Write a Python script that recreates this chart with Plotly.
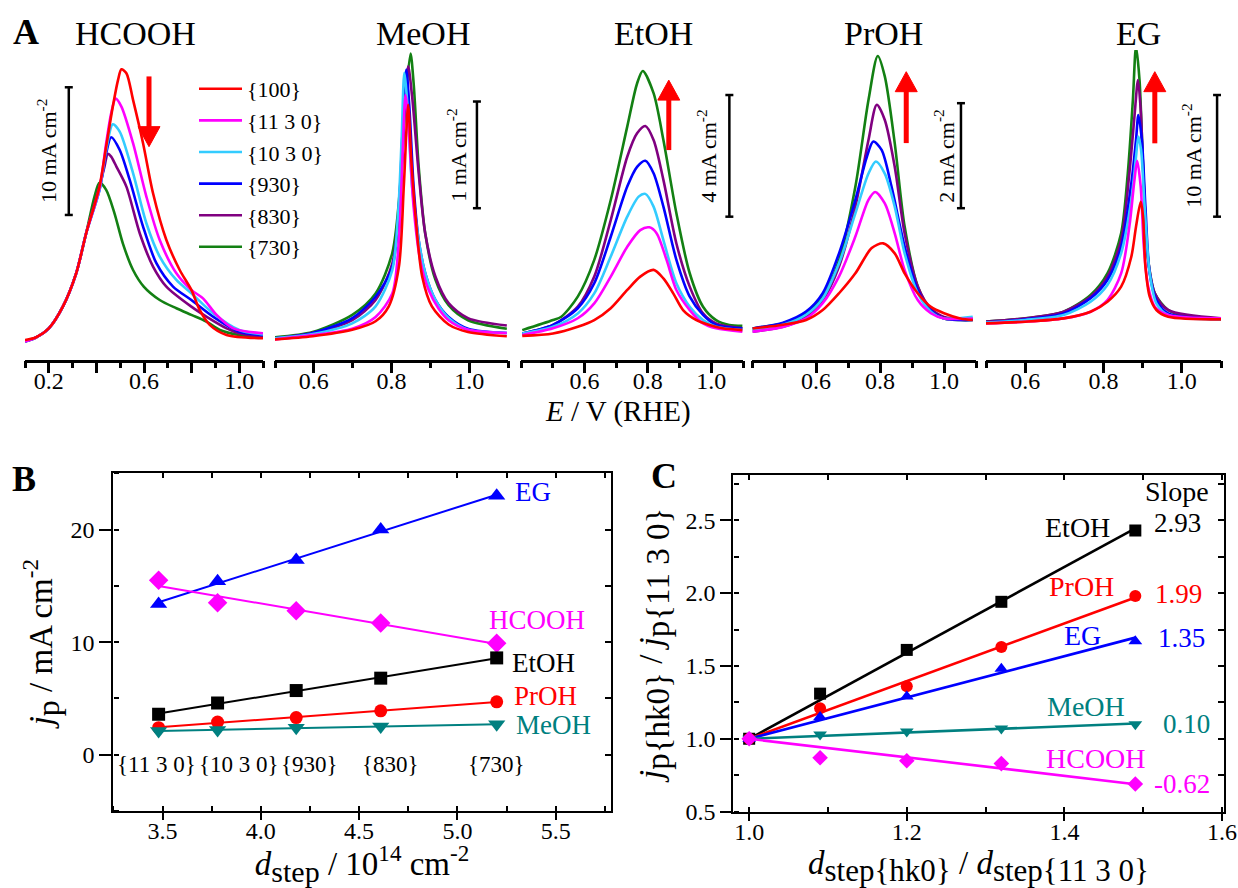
import numpy as np
import plotly.graph_objects as go

W, H = 1238, 888
SERIF = "'Liberation Serif', 'Times New Roman', Times, serif"


def px(x):
    return x / W


def py(y):
    return 1 - y / H


FACETS = ["{100}", "{11 3 0}", "{10 3 0}", "{930}", "{830}", "{730}"]
FACET_COLORS = ["#FF0000", "#FF00FF", "#33CCFF", "#0000FF", "#800080", "#138013"]

# ---------------- Panel A: voltammetric peaks (E / V, j / mA cm-2) ----------------
HCOOH_E = {
    "{100}": [0.10, 0.147, 0.20, 0.259, 0.315, 0.357, 0.413, 0.441, 0.469, 0.491, 0.505, 0.526, 0.554, 0.596, 0.638, 0.694, 0.750, 0.799, 0.834, 0.876, 0.947, 1.10],
    "{11 3 0}": [0.10, 0.147, 0.20, 0.259, 0.315, 0.357, 0.413, 0.441, 0.462, 0.481, 0.505, 0.554, 0.610, 0.666, 0.736, 0.799, 0.848, 0.905, 0.975, 1.10],
    "{10 3 0}": [0.10, 0.147, 0.20, 0.259, 0.315, 0.357, 0.413, 0.441, 0.469, 0.498, 0.554, 0.610, 0.666, 0.736, 0.799, 0.890, 1.0, 1.10],
    "{930}": [0.10, 0.147, 0.20, 0.259, 0.315, 0.357, 0.413, 0.441, 0.462, 0.498, 0.540, 0.596, 0.652, 0.722, 0.799, 0.890, 1.0, 1.10],
    "{830}": [0.10, 0.147, 0.20, 0.259, 0.315, 0.357, 0.413, 0.434, 0.448, 0.462, 0.484, 0.526, 0.582, 0.638, 0.694, 0.799, 0.862, 0.947, 1.0, 1.10],
    "{730}": [0.10, 0.147, 0.20, 0.259, 0.315, 0.357, 0.392, 0.413, 0.441, 0.476, 0.511, 0.554, 0.599, 0.666, 0.736, 0.799, 0.862, 0.919, 1.0, 1.10],
}
HCOOH_J = {
    "{100}": [0.26, 0.47, 1.17, 2.87, 5.48, 8.62, 12.27, 15.40, 18.54, 20.63, 21.46, 21.15, 19.06, 15.67, 11.75, 8.09, 5.74, 4.18, 2.61, 1.44, 0.65, 0.39],
    "{11 3 0}": [0.13, 0.47, 1.17, 2.87, 5.48, 8.62, 12.14, 15.67, 18.02, 19.16, 18.54, 15.67, 11.49, 8.09, 5.48, 4.18, 3.52, 2.22, 1.17, 0.78],
    "{10 3 0}": [0.13, 0.47, 1.17, 2.87, 5.48, 8.62, 12.01, 15.14, 17.15, 16.58, 13.32, 9.40, 6.79, 4.96, 3.92, 2.35, 1.04, 0.70],
    "{930}": [0.13, 0.47, 1.17, 2.87, 5.48, 8.62, 12.01, 14.88, 16.14, 15.14, 12.79, 9.14, 6.27, 4.44, 3.39, 2.09, 0.91, 0.65],
    "{830}": [0.13, 0.47, 1.17, 2.87, 5.48, 8.62, 12.27, 13.84, 14.83, 14.62, 13.84, 12.27, 8.62, 6.01, 4.44, 2.87, 2.09, 1.17, 0.78, 0.52],
    "{730}": [0.13, 0.47, 1.17, 2.87, 5.48, 8.62, 11.49, 12.58, 12.01, 10.18, 7.83, 5.74, 4.44, 3.39, 2.74, 2.22, 1.70, 1.04, 0.65, 0.47],
}

MEOH_E = {
    "{100}": [0.498, 0.597, 0.699, 0.759, 0.793, 0.819, 0.832, 0.843, 0.851, 0.862, 0.879, 0.904, 0.947, 0.997, 1.097],
    "{11 3 0}": [0.498, 0.597, 0.699, 0.759, 0.802, 0.819, 0.829, 0.836, 0.844, 0.857, 0.874, 0.896, 0.921, 0.947, 0.997, 1.097],
    "{10 3 0}": [0.498, 0.597, 0.699, 0.759, 0.802, 0.817, 0.826, 0.833, 0.842, 0.853, 0.870, 0.887, 0.913, 0.947, 0.997, 1.097],
    "{930}": [0.498, 0.597, 0.699, 0.759, 0.802, 0.819, 0.829, 0.838, 0.846, 0.857, 0.870, 0.887, 0.913, 0.947, 0.997, 1.097],
    "{830}": [0.498, 0.597, 0.699, 0.759, 0.802, 0.823, 0.834, 0.843, 0.853, 0.870, 0.887, 0.913, 0.947, 0.997, 1.097],
    "{730}": [0.498, 0.597, 0.699, 0.759, 0.802, 0.823, 0.836, 0.849, 0.857, 0.870, 0.887, 0.913, 0.947, 0.997, 1.097],
}
MEOH_J = {
    "{100}": [-0.01, 0.02, 0.08, 0.16, 0.30, 0.67, 1.45, 2.19, 1.67, 1.14, 0.58, 0.30, 0.13, 0.06, 0.02],
    "{11 3 0}": [-0.01, 0.03, 0.09, 0.20, 0.42, 0.92, 1.77, 2.28, 1.98, 1.23, 0.73, 0.45, 0.28, 0.17, 0.08, 0.05],
    "{10 3 0}": [0.0, 0.04, 0.14, 0.30, 0.64, 1.17, 1.86, 2.49, 2.14, 1.42, 0.92, 0.61, 0.36, 0.19, 0.08, 0.05],
    "{930}": [0.0, 0.05, 0.19, 0.39, 0.67, 1.23, 1.98, 2.52, 2.17, 1.42, 0.92, 0.61, 0.36, 0.20, 0.09, 0.05],
    "{830}": [0.0, 0.05, 0.17, 0.36, 0.70, 1.36, 2.14, 2.55, 2.27, 1.55, 0.98, 0.58, 0.33, 0.19, 0.12],
    "{730}": [0.01, 0.06, 0.22, 0.42, 0.80, 1.45, 2.23, 2.67, 2.39, 1.61, 0.98, 0.55, 0.31, 0.17, 0.09],
}

ETOH_E = {
    "{100}": [0.404, 0.501, 0.579, 0.631, 0.683, 0.735, 0.776, 0.818, 0.849, 0.880, 0.911, 0.953, 0.994, 1.036, 1.098],
    "{11 3 0}": [0.404, 0.501, 0.579, 0.631, 0.683, 0.735, 0.776, 0.805, 0.828, 0.859, 0.890, 0.932, 0.974, 1.015, 1.098],
    "{10 3 0}": [0.404, 0.501, 0.579, 0.631, 0.683, 0.735, 0.771, 0.792, 0.818, 0.849, 0.890, 0.932, 0.974, 1.015, 1.098],
    "{930}": [0.404, 0.501, 0.579, 0.631, 0.683, 0.735, 0.766, 0.792, 0.818, 0.849, 0.890, 0.932, 0.974, 1.015, 1.098],
    "{830}": [0.404, 0.501, 0.579, 0.631, 0.683, 0.735, 0.766, 0.792, 0.818, 0.849, 0.890, 0.932, 0.974, 1.015, 1.098],
    "{730}": [0.404, 0.501, 0.527, 0.579, 0.631, 0.683, 0.735, 0.766, 0.784, 0.818, 0.849, 0.890, 0.932, 0.974, 1.015, 1.057, 1.098],
}
ETOH_J = {
    "{100}": [-0.03, 0.05, 0.27, 0.49, 0.88, 1.48, 1.92, 2.14, 1.86, 1.37, 0.82, 0.49, 0.33, 0.22, 0.16],
    "{11 3 0}": [0.0, 0.22, 0.55, 1.04, 1.92, 2.90, 3.45, 3.54, 3.34, 2.47, 1.48, 0.82, 0.38, 0.22, 0.11],
    "{10 3 0}": [0.05, 0.27, 0.71, 1.37, 2.58, 3.89, 4.55, 4.64, 4.22, 3.12, 1.70, 0.93, 0.49, 0.27, 0.16],
    "{930}": [0.05, 0.33, 0.88, 1.70, 3.23, 4.88, 5.53, 5.73, 5.32, 4.22, 2.47, 1.26, 0.66, 0.33, 0.22],
    "{830}": [0.05, 0.33, 0.93, 1.92, 3.78, 5.86, 6.63, 6.87, 6.41, 5.10, 3.01, 1.59, 0.71, 0.38, 0.22],
    "{730}": [0.16, 0.49, 0.60, 1.26, 2.47, 4.44, 6.85, 8.27, 8.68, 7.95, 6.41, 4.00, 2.03, 0.93, 0.49, 0.33, 0.30],
}

PROH_E = {
    "{100}": [0.402, 0.497, 0.569, 0.621, 0.672, 0.723, 0.774, 0.810, 0.846, 0.877, 0.918, 0.959, 1.000, 1.051, 1.090],
    "{11 3 0}": [0.402, 0.497, 0.569, 0.621, 0.672, 0.723, 0.764, 0.785, 0.815, 0.846, 0.877, 0.918, 0.959, 1.000, 1.090],
    "{10 3 0}": [0.402, 0.497, 0.569, 0.621, 0.672, 0.723, 0.764, 0.787, 0.815, 0.846, 0.877, 0.918, 0.959, 1.000, 1.090],
    "{930}": [0.402, 0.497, 0.569, 0.621, 0.672, 0.723, 0.759, 0.779, 0.805, 0.836, 0.877, 0.918, 0.959, 1.000, 1.090],
    "{830}": [0.402, 0.497, 0.569, 0.621, 0.672, 0.723, 0.764, 0.790, 0.815, 0.846, 0.877, 0.918, 0.959, 1.000, 1.090],
    "{730}": [0.402, 0.497, 0.569, 0.621, 0.672, 0.723, 0.764, 0.793, 0.815, 0.846, 0.877, 0.918, 0.959, 1.000, 1.051, 1.090],
}
PROH_J = {
    "{100}": [0.03, 0.10, 0.19, 0.38, 0.70, 1.08, 1.56, 1.65, 1.46, 1.08, 0.70, 0.44, 0.32, 0.22, 0.19],
    "{11 3 0}": [-0.03, 0.06, 0.22, 0.51, 1.02, 1.78, 2.48, 2.63, 2.41, 1.84, 1.14, 0.57, 0.32, 0.22, 0.22],
    "{10 3 0}": [0.0, 0.10, 0.29, 0.60, 1.27, 2.22, 2.98, 3.21, 2.98, 2.35, 1.46, 0.70, 0.35, 0.22, 0.25],
    "{930}": [0.03, 0.14, 0.35, 0.70, 1.46, 2.48, 3.30, 3.59, 3.43, 2.73, 1.59, 0.76, 0.38, 0.22, 0.19],
    "{830}": [-0.03, 0.06, 0.25, 0.57, 1.21, 2.35, 3.62, 4.29, 4.00, 3.11, 1.84, 0.83, 0.41, 0.25, 0.22],
    "{730}": [0.03, 0.13, 0.32, 0.63, 1.33, 2.73, 4.38, 5.22, 4.83, 3.56, 1.97, 0.83, 0.38, 0.22, 0.19, 0.19],
}

EG_E = {
    "{100}": [0.499, 0.600, 0.698, 0.767, 0.810, 0.845, 0.871, 0.883, 0.895, 0.901, 0.907, 0.918, 0.935, 0.965, 1.105],
    "{11 3 0}": [0.499, 0.600, 0.698, 0.767, 0.810, 0.845, 0.866, 0.879, 0.886, 0.895, 0.903, 0.914, 0.931, 0.965, 1.105],
    "{10 3 0}": [0.499, 0.600, 0.698, 0.767, 0.810, 0.845, 0.871, 0.883, 0.889, 0.896, 0.905, 0.918, 0.935, 0.965, 1.105],
    "{930}": [0.499, 0.600, 0.698, 0.767, 0.810, 0.845, 0.871, 0.883, 0.889, 0.898, 0.907, 0.918, 0.935, 0.965, 1.105],
    "{830}": [0.499, 0.600, 0.698, 0.767, 0.810, 0.845, 0.866, 0.879, 0.888, 0.895, 0.903, 0.914, 0.931, 0.965, 1.105],
    "{730}": [0.499, 0.600, 0.698, 0.767, 0.810, 0.845, 0.862, 0.875, 0.883, 0.892, 0.901, 0.914, 0.931, 0.965, 1.017, 1.105],
}
EG_J = {
    "{100}": [-0.14, 0.0, 0.27, 0.82, 1.64, 2.88, 5.34, 7.81, 9.86, 8.63, 4.52, 2.05, 0.96, 0.41, 0.19],
    "{11 3 0}": [-0.14, 0.0, 0.27, 0.82, 1.78, 3.97, 7.81, 11.64, 13.23, 11.10, 6.16, 2.88, 1.23, 0.55, 0.27],
    "{10 3 0}": [-0.08, 0.14, 0.55, 1.64, 3.01, 5.62, 10.00, 13.56, 15.21, 14.11, 9.45, 3.97, 1.51, 0.55, 0.19],
    "{930}": [-0.08, 0.19, 0.68, 1.92, 3.42, 6.16, 11.37, 14.93, 16.99, 14.93, 9.45, 3.97, 1.78, 0.68, 0.19],
    "{830}": [0.0, 0.27, 0.82, 2.05, 3.70, 6.71, 12.19, 16.85, 19.86, 17.40, 11.10, 5.07, 2.33, 0.96, 0.27],
    "{730}": [0.0, 0.27, 0.82, 2.19, 3.97, 7.26, 12.19, 18.22, 22.60, 19.86, 12.74, 5.07, 2.33, 0.96, 0.41, 0.27],
}

A_NAMES = ["HCOOH", "MeOH", "EtOH", "PrOH", "EG"]
A_E = [HCOOH_E, MEOH_E, ETOH_E, PROH_E, EG_E]
A_J = [HCOOH_J, MEOH_J, ETOH_J, PROH_J, EG_J]

# layout of panel A (pixels of the 1238x888 page)
A_XDOM_PX = [(25, 263), (275, 508), (521, 743), (752, 976), (986, 1221)]
A_YDOM_PX = (50, 360)
A_XRANGE = [(0.1, 1.1), (0.5, 1.1), (0.4, 1.1), (0.4, 1.1), (0.5, 1.1)]
A_YRANGE = [(-1.31, 22.97), (-0.203, 2.703), (-0.822, 9.37), (-0.571, 5.333), (-3.15, 22.33)]
A_LABELVALS = [[0.2, 0.6, 1.0], [0.6, 0.8, 1.0], [0.6, 0.8, 1.0], [0.6, 0.8, 1.0], [0.6, 0.8, 1.0]]
A_MAJORVALS = [[0.2, 0.4, 0.6, 0.8, 1.0], [0.6, 0.8, 1.0], [0.6, 0.8, 1.0], [0.6, 0.8, 1.0], [0.6, 0.8, 1.0]]
A_TITLE_X_PX = [135, 423, 653, 883, 1138]

# scale bars: (E position, j bottom, j top, label, label x px)
SCALE_E = [0.284, 1.02, 1.057, 1.053, 1.09]
SCALE_LO = [10.05, 1.22, 3.89, 2.32, 8.63]
SCALE_HI = [20.05, 2.22, 7.89, 4.32, 18.63]
SCALE_LABEL = ["10 mA cm<sup>-2</sup>", "1 mA cm<sup>-2</sup>", "4 mA cm<sup>-2</sup>",
               "2 mA cm<sup>-2</sup>", "10 mA cm<sup>-2</sup>"]
SCALE_LABEL_X_PX = [47, 457, 707, 944, 1192]

# trend arrows: (E, j tail, j tip)
ARROW_E = [0.621, None, 0.866, 0.882, 0.931]
ARROW_TAIL = [20.9, None, 6.08, 3.56, 14.66]
ARROW_TIP = [15.4, None, 8.38, 4.92, 20.55]

# ---------------- Panel B ----------------
B_DSTEP = [3.48, 3.78, 4.18, 4.61, 5.20]
B_FACET_LABELS = ["{11 3 0}", "{10 3 0}", "{930}", "{830}", "{730}"]
B_FACET_LABEL_X = [3.47, 3.89, 4.25, 4.66, 5.20]
B_EG = [13.4, 15.4, 17.3, 20.0, 23.0]
B_HCOOH = [15.5, 13.5, 12.8, 11.7, 9.9]
B_ETOH = [3.6, 4.6, 5.7, 6.8, 8.6]
B_PROH = [2.4, 2.9, 3.3, 3.9, 4.7]
B_MEOH = [2.1, 2.2, 2.4, 2.5, 2.7]

# ---------------- Panel C ----------------
C_RATIO = [1.0, 1.09, 1.20, 1.32, 1.49]
C_ETOH = [1.0, 1.31, 1.61, 1.94, 2.43]
C_PROH = [1.0, 1.21, 1.36, 1.63, 1.98]
C_EG = [1.0, 1.15, 1.29, 1.48, 1.67]
C_MEOH = [1.0, 1.03, 1.05, 1.07, 1.10]
C_HCOOH = [1.0, 0.87, 0.85, 0.83, 0.69]
C_SLOPES = {"EtOH": "2.93", "PrOH": "1.99", "EG": "1.35", "MeOH": "0.10", "HCOOH": "-0.62"}

SERIES_STYLE = {
    "EG": dict(color="#0000FF", symbol="triangle-up"),
    "HCOOH": dict(color="#FF00FF", symbol="diamond"),
    "EtOH": dict(color="#000000", symbol="square"),
    "PrOH": dict(color="#FF0000", symbol="circle"),
    "MeOH": dict(color="#008080", symbol="triangle-down"),
}
B_SERIES = {"EG": B_EG, "HCOOH": B_HCOOH, "EtOH": B_ETOH, "PrOH": B_PROH, "MeOH": B_MEOH}
C_SERIES = {"EtOH": C_ETOH, "PrOH": C_PROH, "EG": C_EG, "MeOH": C_MEOH, "HCOOH": C_HCOOH}

# label positions (data coords of the panel)
B_LABEL_POS = {"EG": (5.283, 23.3), "HCOOH": (5.153, 12.0), "EtOH": (5.269, 8.15),
               "PrOH": (5.279, 5.18), "MeOH": (5.289, 2.67)}
C_NAME_POS = {"EtOH": (1.460, 2.453), "PrOH": (1.465, 2.043), "EG": (1.449, 1.712),
              "MeOH": (1.480, 1.22), "HCOOH": (1.506, 0.866)}
C_SLOPE_POS = {"EtOH": (1.511, 2.48), "PrOH": (1.513, 1.993), "EG": (1.516, 1.689),
               "MeOH": (1.522, 1.10), "HCOOH": (1.511, 0.688)}

TICKS_ONLY = dict(showticklabels=False, showgrid=False, zeroline=False, showline=False,
                  fixedrange=True, tickcolor="black")

fig = go.Figure()


def tick_carrier(xa, ya):
    """Empty trace so that an overlaid tick-only axis pair becomes a drawn subplot."""
    fig.add_trace(go.Scatter(x=[None], y=[None], mode="lines", xaxis=xa, yaxis=ya,
                             showlegend=False, hoverinfo="skip"))


layout = dict(
    width=W, height=H, margin=dict(l=0, r=0, t=0, b=0),
    paper_bgcolor="white", plot_bgcolor="rgba(0,0,0,0)",
    font=dict(family=SERIF, color="black", size=24),
    showlegend=True,
    legend=dict(x=px(194), y=py(68), xanchor="left", yanchor="top",
                bgcolor="rgba(0,0,0,0)", font=dict(size=22, family=SERIF),
                itemwidth=43, tracegroupgap=0),
)
annotations = []
shapes = []
A_PLOT_H = A_YDOM_PX[1] - A_YDOM_PX[0]

# ----- Panel A -----
for i, name in enumerate(A_NAMES):
    n = i + 1
    xa = "x" if n == 1 else f"x{n}"
    ya = "y" if n == 1 else f"y{n}"
    xkey = "xaxis" if n == 1 else f"xaxis{n}"
    ykey = "yaxis" if n == 1 else f"yaxis{n}"
    for k in reversed(range(len(FACETS))):
        f = FACETS[k]
        fig.add_trace(go.Scatter(
            x=A_E[i][f], y=A_J[i][f], mode="lines", name=f, legendgroup=f,
            showlegend=(i == 0), legendrank=k + 1,
            line=dict(color=FACET_COLORS[k], width=2.6, shape="spline", smoothing=0.8),
            xaxis=xa, yaxis=ya, hoverinfo="skip"))
    x0, x1 = A_XDOM_PX[i]
    # labelled axis (line + labels)
    layout[xkey] = dict(
        domain=[px(x0), px(x1)], range=list(A_XRANGE[i]), anchor=ya,
        showline=True, linecolor="black", linewidth=2.5, showgrid=False, zeroline=False,
        ticks="", tickvals=A_LABELVALS[i], ticktext=[f"{v:.1f}" for v in A_LABELVALS[i]],
        tickfont=dict(size=24), ticklabelstandoff=-3, fixedrange=True)
    # tick marks drawn by an overlaid axis
    layout[f"xaxis{10 + n}"] = dict(
        TICKS_ONLY, overlaying=xa, anchor=ya, side="bottom", range=list(A_XRANGE[i]),
        tickvals=A_MAJORVALS[i], ticks="outside", ticklen=12, tickwidth=2.5,
        minor=dict(ticks="outside", ticklen=7, tickwidth=2.5, tickcolor="black",
                   dtick=0.1, tick0=0.0, showgrid=False))
    tick_carrier(f"x{10 + n}", ya)
    layout[ykey] = dict(domain=[py(A_YDOM_PX[1]), py(A_YDOM_PX[0])], range=list(A_YRANGE[i]),
                        anchor=xa, visible=False, fixedrange=True)
    # title
    annotations.append(dict(text=name, x=px(A_TITLE_X_PX[i]), y=py(33), xref="paper", yref="paper",
                            showarrow=False, font=dict(size=34), xanchor="center", yanchor="middle"))
    # scale bar
    e = SCALE_E[i]
    shapes.append(dict(type="line", xref=xa, yref=ya, x0=e, x1=e, y0=SCALE_LO[i], y1=SCALE_HI[i],
                       line=dict(color="black", width=2.5)))
    for jv in (SCALE_LO[i], SCALE_HI[i]):
        shapes.append(dict(type="line", xref=xa, yref=ya, xsizemode="pixel", xanchor=e,
                           x0=-4, x1=4, y0=jv, y1=jv, line=dict(color="black", width=2.5)))
    annotations.append(dict(text=SCALE_LABEL[i], textangle=-90, x=px(SCALE_LABEL_X_PX[i]),
                            y=(SCALE_LO[i] + SCALE_HI[i]) / 2, xref="paper", yref=ya,
                            showarrow=False, font=dict(size=22), xanchor="center", yanchor="middle"))
    # trend arrow: shaft + filled head
    if ARROW_E[i] is not None:
        per_px = (A_YRANGE[i][1] - A_YRANGE[i][0]) / A_PLOT_H
        up = ARROW_TIP[i] > ARROW_TAIL[i]
        head = 20
        base = ARROW_TIP[i] - (head - 1) * per_px * (1 if up else -1)
        shapes.append(dict(type="line", xref=xa, yref=ya, x0=ARROW_E[i], x1=ARROW_E[i],
                           y0=ARROW_TAIL[i], y1=base, line=dict(color="#FF0000", width=5)))
        s = -1 if up else 1
        shapes.append(dict(type="path", xref=xa, yref=ya, xsizemode="pixel", ysizemode="pixel",
                           xanchor=ARROW_E[i], yanchor=ARROW_TIP[i],
                           path=f"M-11,{s * head} L11,{s * head} L0,0 Z",
                           fillcolor="#FF0000", line=dict(color="#FF0000", width=1)))

annotations.append(dict(text="<b>A</b>", x=px(26), y=py(32), xref="paper", yref="paper",
                        showarrow=False, font=dict(size=36), xanchor="center", yanchor="middle"))
annotations.append(dict(text="<i>E</i> / V (RHE)", x=px(618), y=py(411), xref="paper", yref="paper",
                        showarrow=False, font=dict(size=29), xanchor="center", yanchor="middle"))

# ----- Panel B -----
frame = dict(showline=True, mirror=True, linecolor="black", linewidth=2.2, showgrid=False,
             zeroline=False, tickcolor="black", tickwidth=2,
             tickfont=dict(size=24), fixedrange=True, automargin=False)
for nm, vals in B_SERIES.items():
    st = SERIES_STYLE[nm]
    slope, icpt = np.polyfit(B_DSTEP, vals, 1)
    xf = np.array([B_DSTEP[0], B_DSTEP[-1]])
    fig.add_trace(go.Scatter(x=xf, y=slope * xf + icpt, mode="lines", showlegend=False,
                             line=dict(color=st["color"], width=2), xaxis="x6", yaxis="y6", hoverinfo="skip"))
    fig.add_trace(go.Scatter(x=B_DSTEP, y=vals, mode="markers", showlegend=False, name=nm,
                             marker=dict(color=st["color"], symbol=st["symbol"],
                                         size=15 if nm in ("EG", "HCOOH", "MeOH") else 13),
                             xaxis="x6", yaxis="y6"))
    lx, ly = B_LABEL_POS[nm]
    annotations.append(dict(text=nm, x=lx, y=ly, xref="x6", yref="y6", showarrow=False,
                            font=dict(size=27, color=st["color"]), xanchor="left", yanchor="middle"))
for lab, lx in zip(B_FACET_LABELS, B_FACET_LABEL_X):
    annotations.append(dict(text=lab, x=lx, y=-0.9, xref="x6", yref="y6", showarrow=False,
                            font=dict(size=23), xanchor="center", yanchor="middle"))

B_XDOM = [px(113.4), px(610.7)]
B_YDOM = [py(811), py(473.3)]
B_XR = [3.25, 5.78]
B_YR = [-5, 25]
layout["xaxis6"] = dict(frame, domain=B_XDOM, range=B_XR, anchor="y6",
                        ticks="", tick0=3.5, dtick=0.5, tickformat=".1f", ticklabelstandoff=-3,
                        title=dict(text="<i>d</i><sub><span style='font-size:30px'>step</span></sub> / 10<sup>14</sup> cm<sup>-2</sup>",
                                   font=dict(size=33), standoff=13))
layout["yaxis6"] = dict(frame, domain=B_YDOM, range=B_YR, anchor="x6",
                        ticks="outside", ticklen=12, tick0=0, dtick=10,
                        minor=dict(ticks="inside", ticklen=5, tickwidth=2, tickcolor="black", dtick=5, tick0=0),
                        title=dict(text="<i>j</i><sub><span style='font-size:32px'>p</span></sub> / mA cm<sup>-2</sup>",
                                   font=dict(size=33), standoff=8))
layout["xaxis16"] = dict(TICKS_ONLY, overlaying="x6", anchor="y6", side="bottom", range=B_XR,
                         tick0=3.5, dtick=0.5, ticks="outside", ticklen=8, tickwidth=2,
                         minor=dict(ticks="inside", ticklen=5, tickwidth=2, tickcolor="black", dtick=0.25, tick0=3.25))
# inward ticks on the top and right edges of the frame
layout["xaxis9"] = dict(TICKS_ONLY, overlaying="x6", anchor="y6", side="top", range=B_XR, tick0=3.25, dtick=0.25,
                        ticks="inside", ticklen=5, tickwidth=2)
layout["yaxis9"] = dict(TICKS_ONLY, overlaying="y6", anchor="x6", side="right", range=B_YR, tick0=0, dtick=5,
                        ticks="inside", ticklen=6, tickwidth=2)
tick_carrier("x16", "y6")
tick_carrier("x9", "y6")
tick_carrier("x6", "y9")
annotations.append(dict(text="<b>B</b>", x=px(24), y=py(479), xref="paper", yref="paper",
                        showarrow=False, font=dict(size=36), xanchor="center", yanchor="middle"))

# ----- Panel C -----
for nm, vals in C_SERIES.items():
    st = SERIES_STYLE[nm]
    dx = np.array(C_RATIO) - 1.0
    dy = np.array(vals) - 1.0
    slope = float(np.sum(dx * dy) / np.sum(dx * dx))
    xf = np.array([C_RATIO[0], C_RATIO[-1]])
    fig.add_trace(go.Scatter(x=xf, y=1.0 + slope * (xf - 1.0), mode="lines", showlegend=False,
                             line=dict(color=st["color"], width=2.6), xaxis="x7", yaxis="y7", hoverinfo="skip"))
    fig.add_trace(go.Scatter(x=C_RATIO, y=vals, mode="markers", showlegend=False, name=nm,
                             marker=dict(color=st["color"], symbol=st["symbol"], size=12),
                             xaxis="x7", yaxis="y7"))
    lx, ly = C_NAME_POS[nm]
    annotations.append(dict(text=nm, x=lx, y=ly, xref="x7", yref="y7", showarrow=False,
                            font=dict(size=28, color=st["color"]), xanchor="right", yanchor="middle"))
    sx, sy = C_SLOPE_POS[nm]
    annotations.append(dict(text=C_SLOPES[nm], x=sx, y=sy, xref="x7", yref="y7", showarrow=False,
                            font=dict(size=27, color=st["color"]), xanchor="left", yanchor="middle"))
annotations.append(dict(text="Slope", x=1.543, y=2.695, xref="x7", yref="y7", showarrow=False,
                        font=dict(size=28), xanchor="center", yanchor="middle"))

C_XDOM = [px(733.4), px(1223.6)]
C_YDOM = [py(811.7), py(475)]
C_XR = [0.98, 1.602]
C_YR = [0.5, 2.81]
layout["xaxis7"] = dict(frame, domain=C_XDOM, range=C_XR, anchor="y7",
                        ticks="", tick0=1.0, dtick=0.2, tickformat=".1f", ticklabelstandoff=-3,
                        title=dict(text="<i>d</i><sub><span style='font-size:31px'>step{hk0}</span></sub> / "
                                        "<i>d</i><sub><span style='font-size:31px'>step{11 3 0}</span></sub>",
                                   font=dict(size=33), standoff=9))
layout["yaxis7"] = dict(frame, domain=C_YDOM, range=C_YR, anchor="x7",
                        ticks="outside", ticklen=11, tick0=0.5, dtick=0.5, tickformat=".1f",
                        minor=dict(ticks="inside", ticklen=5, tickwidth=2, tickcolor="black", dtick=0.25, tick0=0.5),
                        title=dict(text="<i>j</i><sub><span style='font-size:33px'>p{hk0}</span></sub> / "
                                        "<i>j</i><sub><span style='font-size:33px'>p{11 3 0}</span></sub>",
                                   font=dict(size=33), standoff=13))
layout["xaxis17"] = dict(TICKS_ONLY, overlaying="x7", anchor="y7", side="bottom", range=C_XR,
                         tick0=1.0, dtick=0.2, ticks="outside", ticklen=8, tickwidth=2,
                         minor=dict(ticks="inside", ticklen=5, tickwidth=2, tickcolor="black", dtick=0.1, tick0=1.0))
layout["xaxis10"] = dict(TICKS_ONLY, overlaying="x7", anchor="y7", side="top", range=C_XR, tick0=1.0, dtick=0.1,
                         ticks="inside", ticklen=5, tickwidth=2)
layout["yaxis10"] = dict(TICKS_ONLY, overlaying="y7", anchor="x7", side="right", range=C_YR, tick0=0.5, dtick=0.25,
                         ticks="inside", ticklen=6, tickwidth=2)
tick_carrier("x17", "y7")
tick_carrier("x10", "y7")
tick_carrier("x7", "y10")
annotations.append(dict(text="<b>C</b>", x=px(664), y=py(476), xref="paper", yref="paper",
                        showarrow=False, font=dict(size=36), xanchor="center", yanchor="middle"))

layout["annotations"] = annotations
layout["shapes"] = shapes
fig.update_layout(**layout)
fig.write_html("out.html")
